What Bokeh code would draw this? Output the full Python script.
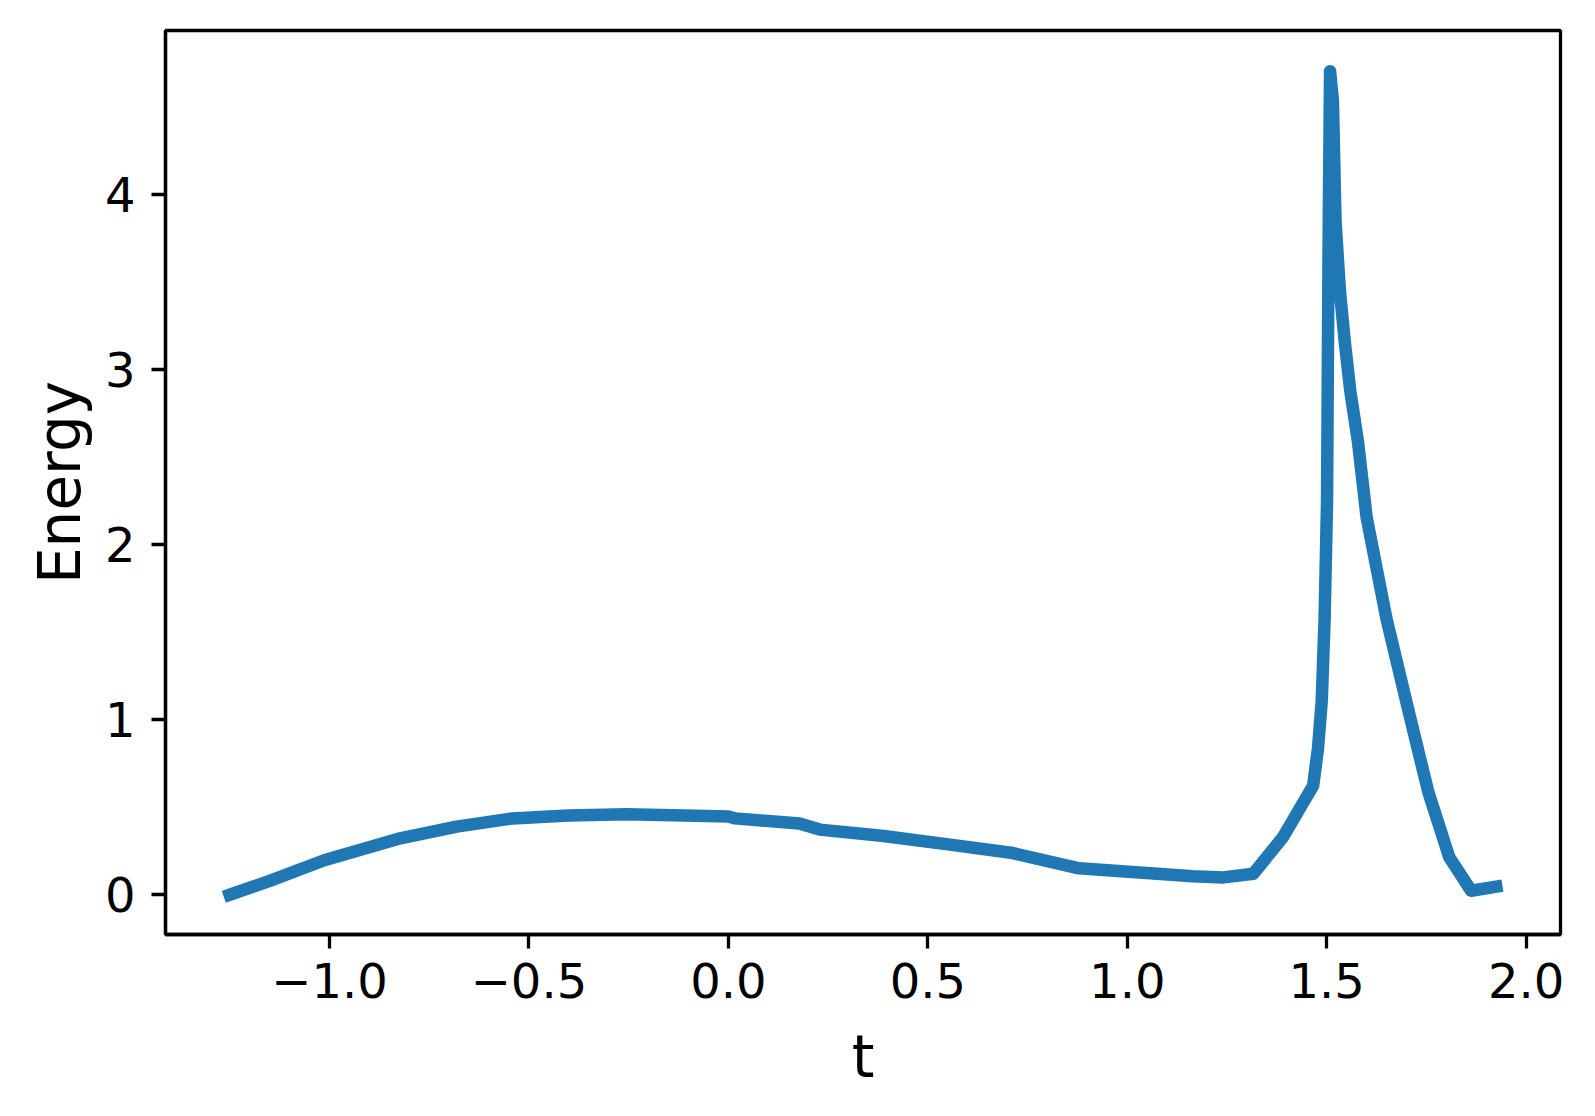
from bokeh.plotting import figure
from bokeh.models import Range1d, FixedTicker, ColumnDataSource
from bokeh.embed import file_html
from bokeh.resources import INLINE

# Data
t = [-1.250, -1.148, -1.013, -0.829, -0.681, -0.541, -0.401, -0.256, -0.111, 0.0,
     0.017, 0.178, 0.229, 0.384, 0.560, 0.713, 0.879, 1.164, 1.241, 1.316,
     1.390, 1.466, 1.478, 1.4875, 1.4945, 1.5008, 1.5045, 1.5083, 1.5155, 1.522,
     1.533, 1.545, 1.559, 1.578, 1.600, 1.650, 1.703, 1.754, 1.807, 1.862, 1.925]
energy = [0.0, 0.081, 0.197, 0.319, 0.389, 0.436, 0.453, 0.459, 0.453, 0.447,
          0.436, 0.407, 0.372, 0.337, 0.285, 0.238, 0.151, 0.105, 0.099, 0.120,
          0.328, 0.623, 0.834, 1.108, 1.565, 2.25, 3.677, 4.703, 4.533, 3.848,
          3.448, 3.163, 2.877, 2.592, 2.155, 1.574, 1.069, 0.592, 0.215, 0.023, 0.046]

x_ticks = [-1.0, -0.5, 0.0, 0.5, 1.0, 1.5, 2.0]
x_tick_labels = ["\u22121.0", "\u22120.5", "0.0", "0.5", "1.0", "1.5", "2.0"]
y_ticks = [0, 1, 2, 3, 4]
y_tick_labels = ["0", "1", "2", "3", "4"]

FONT = "DejaVu Sans"

p = figure(width=1585, height=1105, output_backend="svg", toolbar_location=None,
           x_range=Range1d(-1.411, 2.086), y_range=Range1d(-0.227, 4.935),
           min_border_left=165, min_border_right=25, min_border_top=30,
           min_border_bottom=171)

src = ColumnDataSource(dict(t=t, e=energy))
p.line("t", "e", source=src, line_color="#1f77b4", line_width=12.5,
       line_cap="square", line_join="round")

p.xgrid.visible = False
p.ygrid.visible = False
p.outline_line_color = "black"
p.outline_line_width = 3.3
p.outline_line_alpha = 1.0
p.background_fill_color = "white"
p.border_fill_color = "white"

p.xaxis.ticker = FixedTicker(ticks=x_ticks)
p.xaxis.major_label_overrides = {k: v for k, v in zip(x_ticks, x_tick_labels)}
p.yaxis.ticker = FixedTicker(ticks=y_ticks)
p.yaxis.major_label_overrides = {k: v for k, v in zip(y_ticks, y_tick_labels)}

for ax in (p.xaxis[0], p.yaxis[0]):
    ax.axis_line_width = 3.3
    ax.axis_line_color = "black"
    ax.major_tick_line_width = 3.3
    ax.major_tick_line_color = "black"
    ax.major_tick_out = 14
    ax.major_tick_in = 0
    ax.minor_tick_out = 0
    ax.minor_tick_in = 0
    ax.major_label_text_font = FONT
    ax.major_label_text_font_size = "48px"
    ax.major_label_text_color = "black"
    ax.axis_label_text_font = FONT
    ax.axis_label_text_font_size = "58px"
    ax.axis_label_text_font_style = "normal"
    ax.axis_label_text_color = "black"

p.xaxis.axis_label = "t"
p.yaxis.axis_label = "Energy"
p.xaxis.major_label_standoff = 14
p.yaxis.major_label_standoff = 16
p.xaxis.axis_label_standoff = 22
p.yaxis.axis_label_standoff = 8
p.yaxis.major_label_orientation = "horizontal"

open("out.html", "w").write(file_html(p, INLINE))
